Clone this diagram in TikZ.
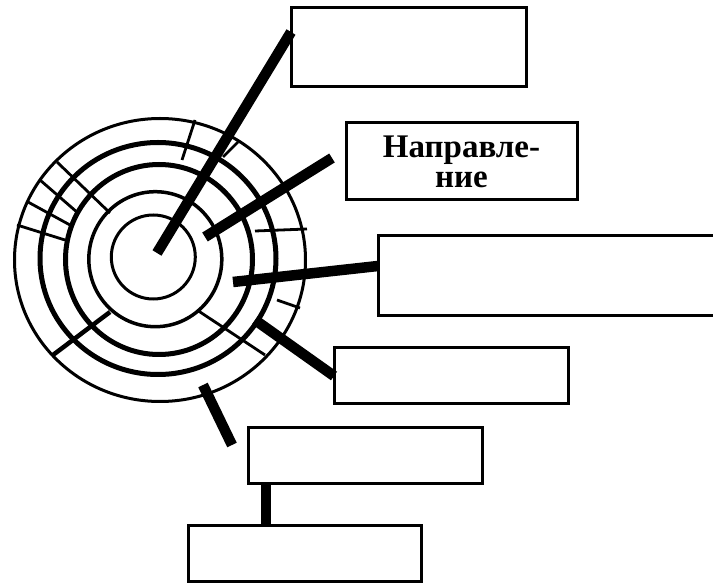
\documentclass[tikz,border=0pt]{standalone}
\usepackage{fontspec}
\setmainfont{Liberation Serif}
\begin{document}
\begin{tikzpicture}[x=1pt,y=-1pt,
  box/.style={draw,line width=3pt,inner sep=0pt,outer sep=0pt,anchor=north west},
  conn/.style={line width=10.5pt},
  tick/.style={line width=2.8pt}]
\useasboundingbox (0,0) rectangle (713,585);
\clip (0,0) rectangle (713,585);
% boxes
\node[box,minimum width=235pt,minimum height=79pt] (b1) at (291,8) {};
\node[box,minimum width=231pt,minimum height=77pt,align=center,
      font=\bfseries\fontsize{33}{30}\selectfont] (b2) at (346,123) {Направле-\\ние};
\node[box,minimum width=345pt,minimum height=80pt] (b3) at (378,236) {};
\node[box,minimum width=234pt,minimum height=56pt] (b4) at (334,348) {};
\node[box,minimum width=234pt,minimum height=56pt] (b5) at (248,428) {};
\node[box,minimum width=233pt,minimum height=55pt] (b6) at (188,526) {};
% rings
\draw[line width=3pt] (160,260) ellipse [x radius=145.5, y radius=141.5];
\draw[line width=5pt] (158,258.5) ellipse [x radius=118, y radius=116];
\draw[line width=5pt] (159,259.5) ellipse [x radius=93.5, y radius=95];
\draw[line width=3.5pt] (155.3,259.2) ellipse [x radius=66.5, y radius=67.5];
\draw[line width=3pt] (153.3,257) ellipse [x radius=42, y radius=42];
% ticks
\draw[tick] (195,120) -- (182,160);
\draw[tick] (238,142) -- (223,157);
\draw[tick] (57,162) -- (110,213);
\draw[tick] (40,180) -- (78,213);
\draw[tick] (28,202) -- (70,225);
\draw[tick] (17,225) -- (65,240);
\draw[tick] (255,231) -- (307,229);
\draw[tick] (277,300) -- (300,308);
\draw[tick] (197,310) -- (265,355);
\draw[line width=4.5pt] (53,355) -- (110,312);
% connectors
\coordinate (c1) at (157,253);
\draw[conn] (c1) -- ([yshift=15.5pt]b1.west);
\coordinate (c2a) at (205,237);
\coordinate (c2b) at (332,158);
\draw[conn] (c2a) -- (c2b);
\coordinate (c3) at (233,282);
\draw[conn] (c3) -- ([yshift=10pt]b3.west);
\coordinate (c4) at (255,320);
\draw[conn] (c4) -- (b4.west);
\coordinate (c5a) at (203,385);
\coordinate (c5b) at (232,445);
\draw[conn] (c5a) -- (c5b);
\draw[conn] ([xshift=18pt]b5.south west) -- ([xshift=18pt]b5.south west |- b6.north);
\end{tikzpicture}
\end{document}
